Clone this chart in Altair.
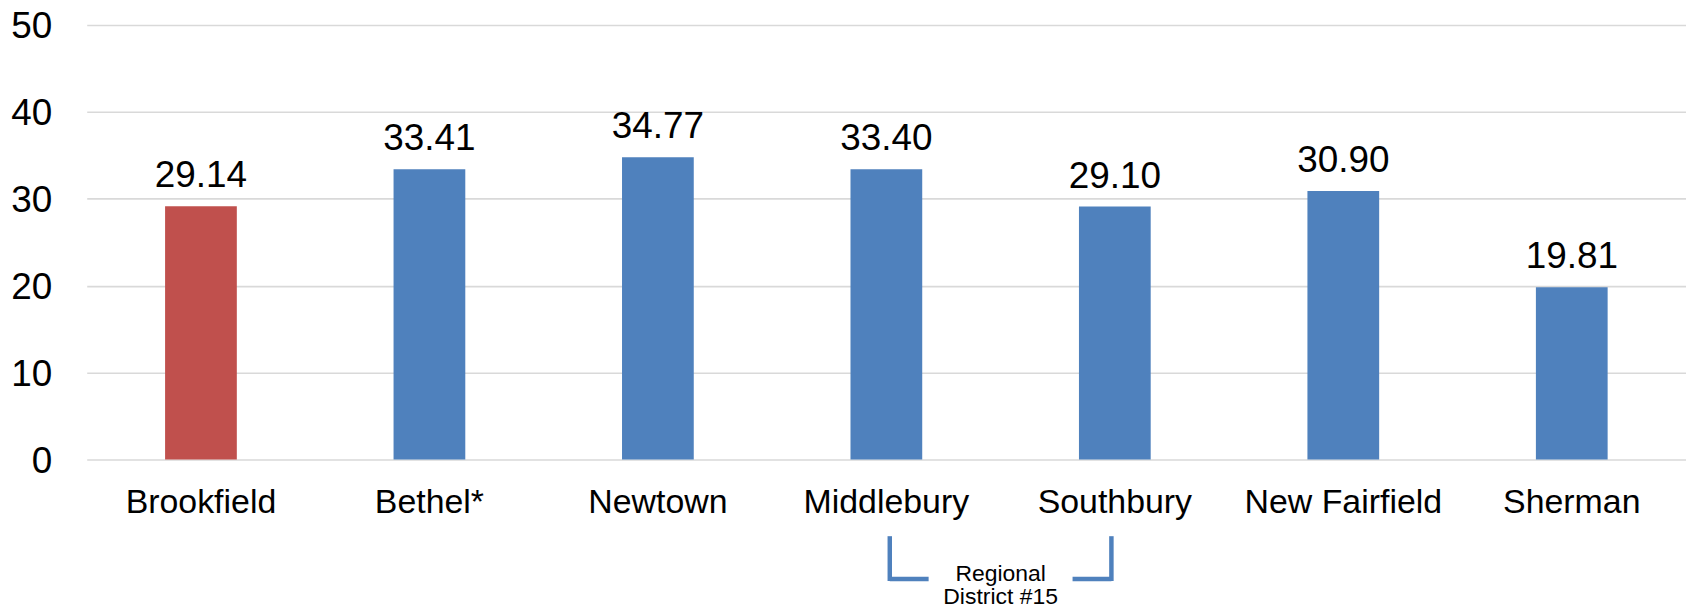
import altair as alt
import pandas as pd

towns = ["Brookfield", "Bethel*", "Newtown", "Middlebury", "Southbury", "New Fairfield", "Sherman"]
values = [29.14, 33.41, 34.77, 33.40, 29.10, 30.90, 19.81]
value_labels = ["29.14", "33.41", "34.77", "33.40", "29.10", "30.90", "19.81"]
bar_colors = ["#C0504D", "#4F81BD", "#4F81BD", "#4F81BD", "#4F81BD", "#4F81BD", "#4F81BD"]
y_ticks = [0, 10, 20, 30, 40, 50]
bracket_towns = ["Middlebury", "Southbury"]
bracket_inset = 0.015
bracket_arm = 0.17
bracket_text = "Regional\nDistrict #15"

FONT = "Liberation Sans"
W, H = 1605, 436

df = pd.DataFrame({"town": towns, "value": values, "label": value_labels})

x_enc = alt.X("town:N", sort=towns,
              scale=alt.Scale(paddingInner=0, paddingOuter=0),
              axis=alt.Axis(title=None, labelAngle=0, ticks=False, domain=False,
                            labelFontSize=34, labelFont=FONT, labelColor="#000000",
                            labelPadding=26, labelLimit=0, grid=False))
y_enc = alt.Y("value:Q", scale=alt.Scale(domain=[0, 50], nice=False),
              axis=alt.Axis(title=None, values=y_ticks, ticks=False, domain=False,
                            grid=True, gridColor="#D9D9D9", gridWidth=1.6,
                            labelFontSize=37, labelFont=FONT, labelColor="#000000",
                            labelBaseline="alphabetic", labelOffset=13,
                            labelPadding=35))

bars = alt.Chart(df).mark_bar(width=alt.RelativeBandSize(0.314)).encode(
    x=x_enc, y=y_enc,
    color=alt.Color("town:N", scale=alt.Scale(domain=towns, range=bar_colors), legend=None),
)
texts = alt.Chart(df).mark_text(fontSize=37, font=FONT, color="#000000",
                                baseline="alphabetic", dy=-19).encode(
    x=alt.X("town:N", sort=towns), y="value:Q", text="label:N")

base = alt.layer(bars, texts)

# bracket in category-index space
ci = [towns.index(bracket_towns[0]) + 0.5 + bracket_inset,
      towns.index(bracket_towns[1]) + 0.5 - bracket_inset]
dv = pd.DataFrame({"x": ci})
dh = pd.DataFrame({"x": [ci[0], ci[1] - bracket_arm], "x2": [ci[0] + bracket_arm, ci[1]]})
dt = pd.DataFrame({"x": [(ci[0] + ci[1]) / 2], "t": [bracket_text]})
xq = alt.X("x:Q", scale=alt.Scale(domain=[0, len(towns)], nice=False, zero=False), axis=None)

vrules = alt.Chart(dv).mark_rule(color="#4F81BD", strokeWidth=4.5).encode(
    x=xq, y=alt.value(513), y2=alt.value(558))
hrules = alt.Chart(dh).mark_rule(color="#4F81BD", strokeWidth=4.5).encode(
    x=xq, x2="x2:Q", y=alt.value(556))
btext = alt.Chart(dt).mark_text(fontSize=23, font=FONT, color="#000000", baseline="alphabetic",
                                lineBreak="\n", lineHeight=23).encode(
    x=xq, y=alt.value(558), text="t:N")

bracket = alt.layer(vrules, hrules, btext)

chart = alt.layer(base, bracket).resolve_scale(x="independent").properties(
    width=W, height=H,
    autosize=alt.AutoSizeParams(type="none"),
    padding={"left": 79, "top": 16, "right": 0, "bottom": 150},
).configure_view(stroke=None)

chart.save("out.html", embed_options={"renderer": "svg", "actions": False})
